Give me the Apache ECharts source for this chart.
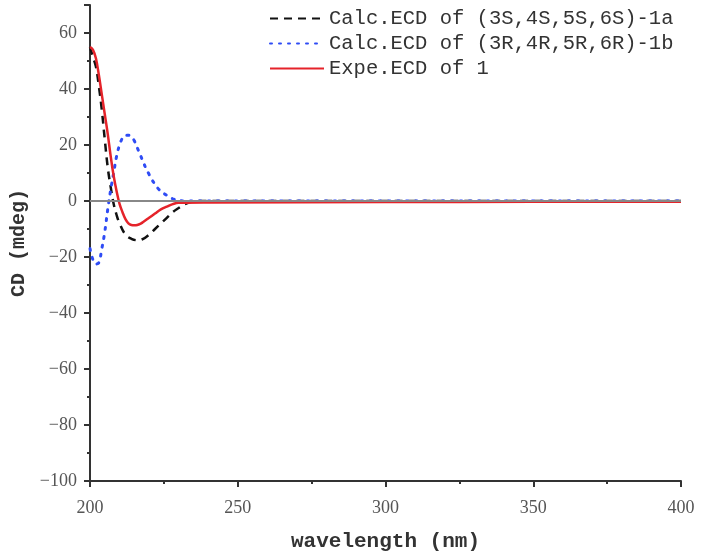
<!DOCTYPE html>
<html>
<head>
<meta charset="utf-8">
<script src="https://cdn.jsdelivr.net/npm/echarts@6/dist/echarts.min.js"></script>
<style>
  html, body { margin: 0; padding: 0; background: #fff; }
  #chart { width: 702px; height: 555px; }
</style>
</head>
<body>
<div id="chart"></div>
<script>
// wavelength (nm) and CD (mdeg)
const wlCalcA = [200, 201, 202, 203, 204, 205, 206, 207, 208, 209, 210, 212, 214, 216, 218, 220, 222, 224, 226, 228, 230, 232, 234, 236, 250, 300, 350, 400];
const cdCalcA = [55, 51.5, 48, 41, 32.5, 22, 12, 5, -1, -5, -8, -12, -13.5, -14, -13.5, -12, -10, -8, -6, -4, -2.5, -1.2, -0.4, 0, 0, 0, 0, 0];

const wlCalcB = [200, 201, 202, 203, 204, 205, 206, 207, 208, 209, 210, 211, 212, 213, 214, 215, 216, 217, 218, 219, 220, 221, 222, 223, 224, 226, 228, 230, 232, 250, 300, 350, 400];
const cdCalcB = [-17, -21, -22.5, -22, -17, -11, -3, 4, 10, 16, 20, 22.5, 23.5, 23.5, 23, 21.5, 19, 16.5, 14, 11.5, 9.5, 7.5, 6, 4.5, 3.5, 2, 0.8, 0.2, 0, 0, 0, 0, 0];

const wlExpe = [200, 201, 202, 203, 204, 205, 206, 207, 208, 209, 210, 211, 212, 213, 214, 215, 216, 217, 218, 220, 222, 224, 226, 228, 230, 240, 300, 350, 400];
const cdExpe = [55, 54, 51, 45, 38, 31, 24, 16, 9, 3.5, -1, -4, -6.5, -8, -8.6, -8.7, -8.6, -8.2, -7.5, -6, -4.5, -3, -2, -1.1, -0.6, -0.5, -0.4, -0.3, -0.3];

const seriesNames = ['Calc.ECD of (3S,4S,5S,6S)-1a', 'Calc.ECD of (3R,4R,5R,6R)-1b', 'Expe.ECD of 1'];

function pairs(xs, ys) {
  return xs.map((x, i) => [x, ys[i]]);
}

const chart = echarts.init(document.getElementById('chart'));
const tickFont = { fontFamily: 'Liberation Serif', fontSize: 18, color: '#555' };

chart.setOption({
  animation: false,
  backgroundColor: '#fff',
  grid: { left: 90, right: 21, top: 5, bottom: 74, outerBoundsMode: 'none', containLabel: false },
  legend: {
    orient: 'vertical',
    left: 264,
    top: 3,
    itemWidth: 54,
    itemHeight: 12,
    itemGap: 4,
    itemStyle: { opacity: 0 },
    textStyle: { fontFamily: 'Liberation Mono', fontSize: 20.5, lineHeight: 20, color: '#333' },
    data: seriesNames
  },
  xAxis: {
    type: 'value',
    min: 200,
    max: 400,
    interval: 50,
    name: 'wavelength (nm)',
    nameLocation: 'middle',
    nameGap: 50,
    nameTextStyle: { fontFamily: 'Liberation Mono', fontSize: 21, fontWeight: 'bold', color: '#333' },
    axisLine: { onZero: false, lineStyle: { color: '#333', width: 2 } },
    axisTick: { inside: false, length: 6, lineStyle: { color: '#333', width: 2 } },
    minorTick: { show: true, splitNumber: 2, length: 3, lineStyle: { color: '#333', width: 2 } },
    axisLabel: Object.assign({ margin: 18 }, tickFont),
    splitLine: { show: false }
  },
  yAxis: {
    type: 'value',
    min: -100,
    max: 70,
    interval: 20,
    name: 'CD (mdeg)',
    nameLocation: 'middle',
    nameGap: 61,
    nameTextStyle: { fontFamily: 'Liberation Mono', fontSize: 20, fontWeight: 'bold', color: '#333' },
    axisLine: { onZero: false, lineStyle: { color: '#333', width: 2 } },
    axisTick: { inside: false, length: 6, lineStyle: { color: '#333', width: 2 } },
    minorTick: { show: true, splitNumber: 2, length: 3, lineStyle: { color: '#333', width: 2 } },
    axisLabel: Object.assign({
      margin: 13,
      showMaxLabel: false,
      formatter: v => (v > 60 ? '' : String(v).replace('-', '\u2212'))
    }, tickFont),
    splitLine: { show: false }
  },
  series: [
    {
      name: seriesNames[0],
      type: 'line',
      smooth: 0.4,
      symbol: 'none',
      data: pairs(wlCalcA, cdCalcA),
      lineStyle: { color: '#111', width: 2.5, type: [8, 6] },
      itemStyle: { color: '#111' },
      markLine: {
        silent: true,
        symbol: 'none',
        label: { show: false },
        lineStyle: { color: '#888', width: 2, type: 'solid' },
        data: [{ yAxis: 0 }]
      },
      z: 3
    },
    {
      name: seriesNames[1],
      type: 'line',
      smooth: 0.4,
      symbol: 'none',
      data: pairs(wlCalcB, cdCalcB),
      lineStyle: { color: '#2f4cf5', width: 3, type: [2, 7], cap: 'round' },
      itemStyle: { color: '#2f4cf5' },
      z: 3
    },
    {
      name: seriesNames[2],
      type: 'line',
      smooth: 0.4,
      symbol: 'none',
      data: pairs(wlExpe, cdExpe),
      lineStyle: { color: '#e5232a', width: 2.5 },
      itemStyle: { color: '#e5232a' },
      z: 4
    }
  ]
});
</script>
</body>
</html>
